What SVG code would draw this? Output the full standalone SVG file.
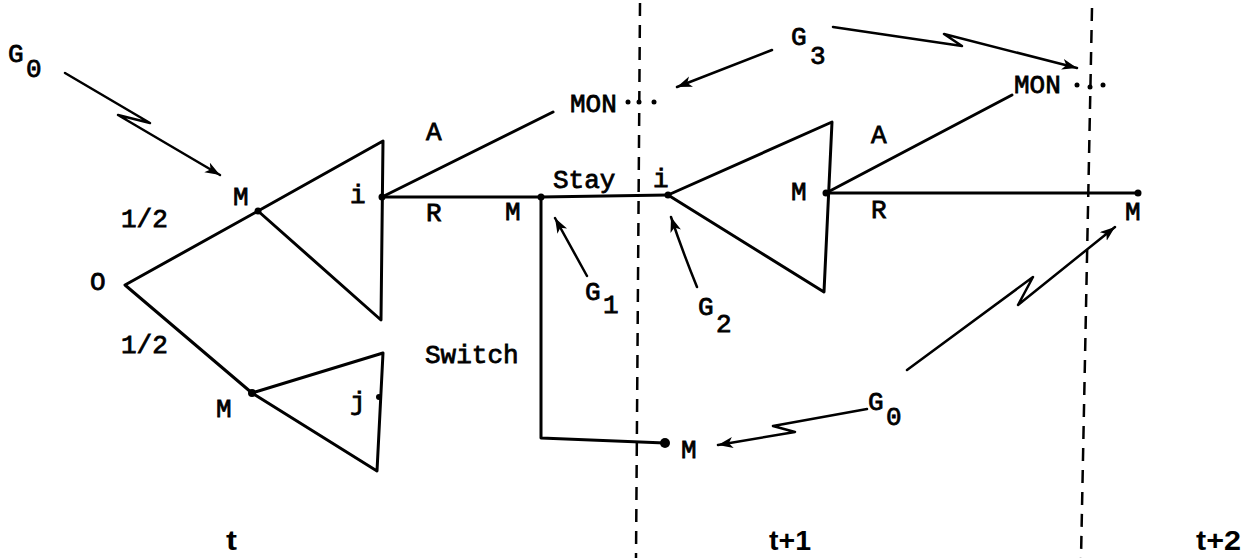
<svg xmlns="http://www.w3.org/2000/svg" width="1249" height="560" viewBox="0 0 1249 560">
<style>
.ln{stroke:#000;stroke-width:3;fill:none;stroke-linecap:round;stroke-linejoin:round}
.ar{stroke:#000;stroke-width:2.5;fill:none;stroke-linecap:round;stroke-linejoin:round}
.dash{stroke:#000;stroke-width:2.5;fill:none;stroke-dasharray:13 9}
.tx{font-family:"Liberation Mono","Courier New",monospace;font-size:26px;fill:#000;stroke:#000;stroke-width:0.8}
.tb{font-family:"Liberation Sans",Arial,sans-serif;font-size:27px;font-weight:bold;fill:#000}
.dot{fill:#000}
</style>
<defs>
<marker id="ah" markerUnits="userSpaceOnUse" markerWidth="18" markerHeight="12" refX="15" refY="5.5" orient="auto">
<path d="M0,0 L15,5.5 L0,11 L4,5.5 z" fill="#000"/>
</marker>
</defs>
<rect width="1249" height="560" fill="#fff"/>

<g id="timelines">
<path class="dash" d="M640,3 L636,558"/>
<path class="dash" d="M1092,8 L1081,558"/>
</g>

<g id="connectors">
<!-- left tree -->
<path class="ln" d="M258,211 L125,285 L252,393"/>
<path class="ln" d="M258,211 L383,141 L381,320 Z"/>
<path class="ln" d="M252,393 L383,353 L377,471 Z"/>
<path class="ln" d="M382,197 L553,112"/>
<path class="ln" d="M382,197 L541,197 L668,195"/>
<path class="ln" d="M541,197 L541,438 L665,443"/>
<!-- second stage -->
<path class="ln" d="M668,195 L832,122 L824,292 Z"/>
<path class="ln" d="M826,193 L1012,95"/>
<path class="ln" d="M826,193 L1138,193"/>
<!-- G arrows -->
<path class="ar" marker-end="url(#ah)" d="M65,73 L150,123 L118,115 L220,175"/>
<path class="ar" marker-end="url(#ah)" d="M772,50 L677,87"/>
<path class="ar" marker-end="url(#ah)" d="M833,27 L962,46 L944,34 L1077,68"/>
<path class="ar" marker-end="url(#ah)" d="M587,276 L555,218"/>
<path class="ar" marker-end="url(#ah)" d="M697,287 Q682,250 671,217"/>
<path class="ar" marker-end="url(#ah)" d="M867,409 L773,426 L795,432 L718,445"/>
<path class="ar" marker-end="url(#ah)" d="M907,370 L1033,277 L1018,305 L1115,227"/>
</g>

<g id="node-O"><text class="tx" x="90" y="290">O</text></g>
<g id="node-M-upper"><circle class="dot" cx="258" cy="211" r="3.5"/><text class="tx" x="233" y="205">M</text></g>
<g id="node-M-lower"><circle class="dot" cx="252" cy="393" r="4"/><text class="tx" x="216" y="417">M</text></g>
<g id="node-i"><circle class="dot" cx="382" cy="197" r="3.5"/><text class="tx" x="350" y="203">i</text></g>
<g id="node-j"><circle class="dot" cx="379" cy="397" r="3"/><text class="tx" x="350" y="410">j</text></g>
<g id="node-MON1"><text class="tx" x="570" y="112">MON</text>
<circle class="dot" cx="628" cy="102" r="2.5"/><circle class="dot" cx="639" cy="102" r="2.5"/><circle class="dot" cx="654" cy="102" r="2.5"/></g>
<g id="node-M-mid"><circle class="dot" cx="541" cy="197" r="3.5"/><text class="tx" x="505" y="220">M</text></g>
<g id="node-i2"><circle class="dot" cx="668" cy="195" r="3.5"/><text class="tx" x="653" y="187">i</text></g>
<g id="node-M-switch"><circle class="dot" cx="665" cy="443" r="5"/><text class="tx" x="681" y="458">M</text></g>
<g id="node-M-second"><circle class="dot" cx="826" cy="193" r="3.5"/><text class="tx" x="791" y="200">M</text></g>
<g id="node-M-right"><circle class="dot" cx="1138" cy="193" r="3.5"/><text class="tx" x="1125" y="220">M</text></g>
<g id="node-MON2"><text class="tx" x="1014" y="93">MON</text>
<circle class="dot" cx="1077" cy="85" r="2.5"/><circle class="dot" cx="1090" cy="87" r="2.5"/><circle class="dot" cx="1103" cy="85" r="2.5"/></g>

<g id="labels">
<text class="tx" x="121" y="227">1/2</text>
<text class="tx" x="121" y="353">1/2</text>
<text class="tx" x="426" y="140">A</text>
<text class="tx" x="426" y="221">R</text>
<text class="tx" x="553" y="188">Stay</text>
<text class="tx" x="425" y="363">Switch</text>
<text class="tx" x="871" y="143">A</text>
<text class="tx" x="871" y="218">R</text>
<text class="tx" x="8" y="62">G</text><text class="tx" x="26" y="77">0</text>
<text class="tx" x="791" y="45">G</text><text class="tx" x="810" y="64">3</text>
<text class="tx" x="585" y="300">G</text><text class="tx" x="603" y="313">1</text>
<text class="tx" x="698" y="315">G</text><text class="tx" x="716" y="332">2</text>
<text class="tx" x="868" y="410">G</text><text class="tx" x="886" y="425">0</text>
<text class="tb" x="226" y="550" textLength="11" lengthAdjust="spacingAndGlyphs">t</text>
<text class="tb" x="769" y="550" textLength="42" lengthAdjust="spacingAndGlyphs">t+1</text>
<text class="tb" x="1196" y="550" textLength="45" lengthAdjust="spacingAndGlyphs">t+2</text>
</g>
</svg>
